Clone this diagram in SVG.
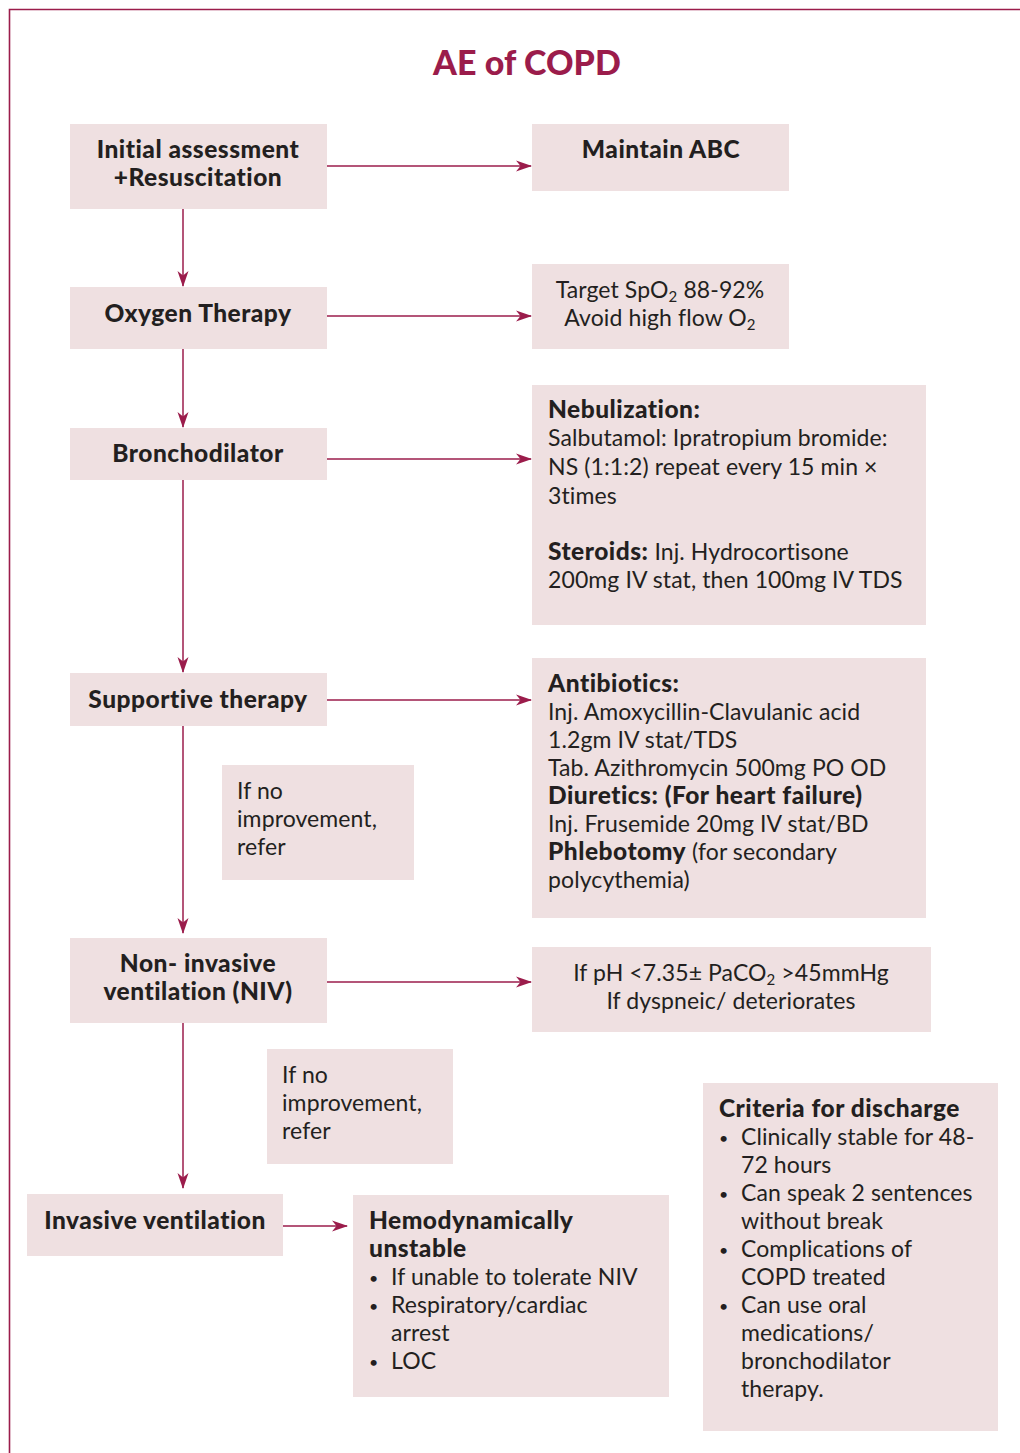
<svg xmlns="http://www.w3.org/2000/svg" width="1020" height="1453" viewBox="0 0 1020 1453">
  <style>
    .box { fill: #efe0e1; }
    .frame { fill: none; stroke: #9b1c4b; stroke-width: 1.6; }
    .conn { fill: none; stroke: #9b1c4b; stroke-width: 1.5; }
    text { font-family: "Lato", "Liberation Sans", sans-serif; fill: #231f20; font-size: 23px; letter-spacing: 0.1px; }
    .b { font-weight: 900; font-size: 24.5px; letter-spacing: 0.5px; }
    .c { text-anchor: middle; }
    .title { font-size: 34px; font-weight: 900; fill: #9b1c4b; text-anchor: middle; }
    .sub { font-size: 15px; }
    .dot { font-size: 16px; }
  </style>
  <defs>
    <marker id="arrow" markerWidth="16" markerHeight="12" refX="15" refY="6" orient="auto" markerUnits="userSpaceOnUse">
      <path d="M0,0.5 L16,6 L0,11.5 L4.5,6 z" fill="#9b1c4b"/>
    </marker>
  </defs>

  <rect width="1020" height="1453" fill="#ffffff"/>
  <!-- page frame -->
  <path class="frame" d="M1020,9.5 H9.5 V1453"/>

  <text class="title" x="527" y="75">AE of COPD</text>

  <!-- connectors -->
  <g id="connectors">
    <line class="conn" x1="327" y1="166" x2="531" y2="166" marker-end="url(#arrow)"/>
    <line class="conn" x1="327" y1="316" x2="531" y2="316" marker-end="url(#arrow)"/>
    <line class="conn" x1="327" y1="459" x2="531" y2="459" marker-end="url(#arrow)"/>
    <line class="conn" x1="327" y1="700" x2="531" y2="700" marker-end="url(#arrow)"/>
    <line class="conn" x1="327" y1="982" x2="531" y2="982" marker-end="url(#arrow)"/>
    <line class="conn" x1="283" y1="1226" x2="347" y2="1226" marker-end="url(#arrow)"/>
    <line class="conn" x1="183" y1="209" x2="183" y2="286" marker-end="url(#arrow)"/>
    <line class="conn" x1="183" y1="349" x2="183" y2="427" marker-end="url(#arrow)"/>
    <line class="conn" x1="183" y1="480" x2="183" y2="672" marker-end="url(#arrow)"/>
    <line class="conn" x1="183" y1="726" x2="183" y2="933" marker-end="url(#arrow)"/>
    <line class="conn" x1="183" y1="1023" x2="183" y2="1188" marker-end="url(#arrow)"/>
  </g>

  <g id="initial-assessment">
    <rect class="box" x="70" y="124" width="257" height="85"/>
    <text class="b c" x="198" y="158">Initial assessment</text>
    <text class="b c" x="198" y="186">+Resuscitation</text>
  </g>

  <g id="maintain-abc">
    <rect class="box" x="532" y="124" width="257" height="67"/>
    <text class="b c" x="661" y="158">Maintain ABC</text>
  </g>

  <g id="oxygen-therapy">
    <rect class="box" x="70" y="287" width="257" height="62"/>
    <text class="b c" x="198" y="322">Oxygen Therapy</text>
  </g>

  <g id="oxygen-target">
    <rect class="box" x="532" y="264" width="257" height="85"/>
    <text class="c" x="660" y="298">Target SpO<tspan class="sub" dy="4">2</tspan><tspan dy="-4"> 88-92%</tspan></text>
    <text class="c" x="660" y="326">Avoid high flow O<tspan class="sub" dy="4">2</tspan></text>
  </g>

  <g id="bronchodilator">
    <rect class="box" x="70" y="428" width="257" height="52"/>
    <text class="b c" x="198" y="462">Bronchodilator</text>
  </g>

  <g id="nebulization">
    <rect class="box" x="532" y="385" width="394" height="240"/>
    <text x="548" y="418" class="b">Nebulization:</text>
    <text x="548" y="446">Salbutamol: Ipratropium bromide:</text>
    <text x="548" y="475">NS (1:1:2) repeat every 15 min ×</text>
    <text x="548" y="504">3times</text>
    <text x="548" y="560"><tspan class="b">Steroids:</tspan> Inj. Hydrocortisone</text>
    <text x="548" y="588">200mg IV stat, then 100mg IV TDS</text>
  </g>

  <g id="supportive-therapy">
    <rect class="box" x="70" y="673" width="257" height="53"/>
    <text class="b c" x="198" y="708">Supportive therapy</text>
  </g>

  <g id="antibiotics">
    <rect class="box" x="532" y="658" width="394" height="260"/>
    <text x="548" y="692" class="b">Antibiotics:</text>
    <text x="548" y="720">Inj. Amoxycillin-Clavulanic acid</text>
    <text x="548" y="748">1.2gm IV stat/TDS</text>
    <text x="548" y="776">Tab. Azithromycin 500mg PO OD</text>
    <text x="548" y="804" class="b">Diuretics: (For heart failure)</text>
    <text x="548" y="832">Inj. Frusemide 20mg IV stat/BD</text>
    <text x="548" y="860"><tspan class="b">Phlebotomy</tspan> (for secondary</text>
    <text x="548" y="888">polycythemia)</text>
  </g>

  <g id="refer-1">
    <rect class="box" x="222" y="765" width="192" height="115"/>
    <text x="237" y="799">If no</text>
    <text x="237" y="827">improvement,</text>
    <text x="237" y="855">refer</text>
  </g>

  <g id="niv">
    <rect class="box" x="70" y="938" width="257" height="85"/>
    <text class="b c" x="198" y="972">Non- invasive</text>
    <text class="b c" x="198" y="1000">ventilation (NIV)</text>
  </g>

  <g id="niv-criteria">
    <rect class="box" x="532" y="947" width="399" height="85"/>
    <text class="c" x="731" y="981">If pH &lt;7.35± PaCO<tspan class="sub" dy="4">2</tspan><tspan dy="-4"> &gt;45mmHg</tspan></text>
    <text class="c" x="731" y="1009">If dyspneic/ deteriorates</text>
  </g>

  <g id="refer-2">
    <rect class="box" x="267" y="1049" width="186" height="115"/>
    <text x="282" y="1083">If no</text>
    <text x="282" y="1111">improvement,</text>
    <text x="282" y="1139">refer</text>
  </g>

  <g id="invasive-ventilation">
    <rect class="box" x="27" y="1194" width="256" height="62"/>
    <text class="b c" x="155" y="1229">Invasive ventilation</text>
  </g>

  <g id="hemodynamically-unstable">
    <rect class="box" x="353" y="1195" width="316" height="202"/>
    <text x="369" y="1229" class="b">Hemodynamically</text>
    <text x="369" y="1257" class="b">unstable</text>
    <text class="dot" x="369" y="1284">•</text><text x="391" y="1285">If unable to tolerate NIV</text>
    <text class="dot" x="369" y="1312">•</text><text x="391" y="1313">Respiratory/cardiac</text>
    <text x="391" y="1341">arrest</text>
    <text class="dot" x="369" y="1368">•</text><text x="391" y="1369">LOC</text>
  </g>

  <g id="discharge-criteria">
    <rect class="box" x="703" y="1083" width="295" height="348"/>
    <text x="719" y="1117" class="b">Criteria for discharge</text>
    <text class="dot" x="719" y="1144">•</text><text x="741" y="1145">Clinically stable for 48-</text>
    <text x="741" y="1173">72 hours</text>
    <text class="dot" x="719" y="1200">•</text><text x="741" y="1201">Can speak 2 sentences</text>
    <text x="741" y="1229">without break</text>
    <text class="dot" x="719" y="1256">•</text><text x="741" y="1257">Complications of</text>
    <text x="741" y="1285">COPD treated</text>
    <text class="dot" x="719" y="1312">•</text><text x="741" y="1313">Can use oral</text>
    <text x="741" y="1341">medications/</text>
    <text x="741" y="1369">bronchodilator</text>
    <text x="741" y="1397">therapy.</text>
  </g>
</svg>
